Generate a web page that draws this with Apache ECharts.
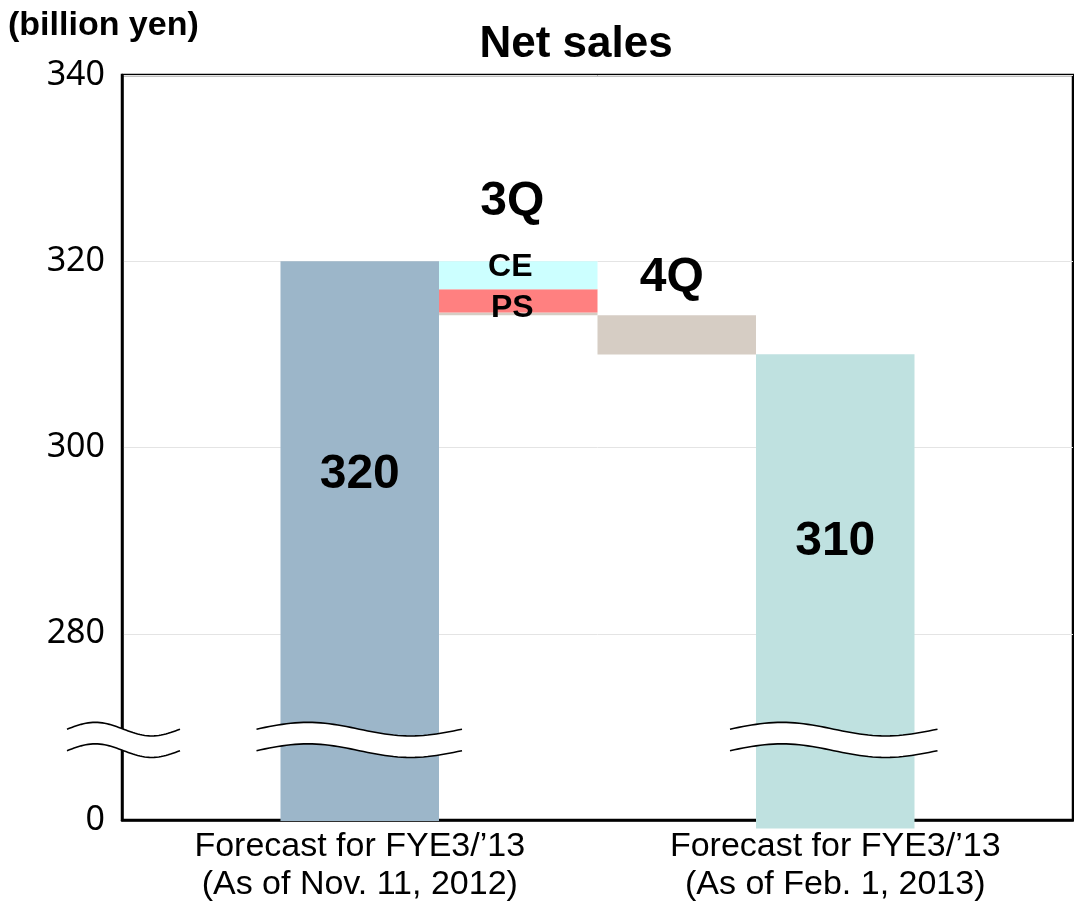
<!DOCTYPE html>
<html>
<head>
<meta charset="utf-8">
<title>Net sales</title>
<script src="https://cdn.jsdelivr.net/npm/echarts@6/dist/echarts.min.js"></script>
<style>
  html, body { margin: 0; padding: 0; background: #fff; }
  #chart { width: 1074px; height: 906px; }
</style>
</head>
<body>
<div id="chart"></div>
<script>
// categories along the x axis (3Q / 4Q are shown above the bars, not on the axis)
var categories = ['', 'Forecast for FYE3/\u201913\n(As of Nov. 11, 2012)', '3Q', '4Q',
  'Forecast for FYE3/\u201913\n(As of Feb. 1, 2013)', ''];
// billion yen
var netSales = [null, 320, null, null, 310, null];
var ceDecrease = [null, null, 3.0, null, null, null];
var psDecrease = [null, null, 2.5, null, null, null];
var otherDecrease = [null, null, 0.3, 4.2, null, null];
// y tick values, the bottom one is drawn as "0" (broken axis)
var yTicks = [260, 280, 300, 320, 340];
var yTickLabels = ['0', '280', '300', '320', '340'];

var axisFloor = yTicks[0];
var font = "'Liberation Sans', Arial, sans-serif";

// waterfall: transparent base + stacked pieces
var base = [], totals = [], tops = [];
var running = 0;
for (var i = 0; i < categories.length; i++) {
  if (netSales[i] != null) {
    // bars start a little under the axis line so they cover it
    var b = axisFloor - (i === 4 ? 0.9 : 0.1);
    base.push(b);
    totals.push({
      value: netSales[i] - b,
      label: { position: ['50%', i === 4 ? '39.5%' : '38.2%'] }
    });
    running = netSales[i];
    tops.push(null);
  } else if (otherDecrease[i] != null) {
    var dec = (ceDecrease[i] || 0) + (psDecrease[i] || 0) + otherDecrease[i];
    tops.push(running);
    running = running - dec;
    base.push(running);
    totals.push(null);
  } else {
    base.push(null);
    totals.push(null);
    tops.push(null);
  }
}

var chart = echarts.init(document.getElementById('chart'));

var option = {
  animation: false,
  title: [
    {
      text: 'Net sales',
      left: 571,
      textAlign: 'center',
      top: 18,
      textStyle: { fontFamily: font, fontSize: 44, fontWeight: 'bold', color: '#000' }
    },
    {
      text: '(billion yen)',
      left: 3,
      top: 4,
      textStyle: { fontFamily: font, fontSize: 34, fontWeight: 'bold', color: '#000' }
    }
  ],
  grid: {
    left: 122,
    right: 1,
    top: 75,
    bottom: 86,
    show: true,
    borderColor: '#000',
    borderWidth: 2.5,
    containLabel: false
  },
  xAxis: {
    type: 'category',
    data: categories,
    axisLine: { lineStyle: { color: '#000', width: 2.5 } },
    axisTick: { show: false },
    axisLabel: {
      interval: 0,
      margin: 8,
      fontFamily: font,
      fontSize: 34,
      lineHeight: 38,
      color: '#000',
      formatter: function (v) {
        return v.indexOf('Forecast') === 0 ? v : '';
      }
    }
  },
  yAxis: {
    type: 'value',
    min: yTicks[0],
    max: yTicks[yTicks.length - 1],
    interval: 20,
    axisLine: { show: true, lineStyle: { color: '#000', width: 2.5 } },
    axisTick: { show: false },
    splitLine: { lineStyle: { color: '#e4e4e4', width: 1 } },
    axisLabel: {
      margin: 17,
      fontFamily: "'Noto Sans', sans-serif",
      fontSize: 34,
      color: '#000',
      formatter: function (v) {
        var k = yTicks.indexOf(v);
        return k >= 0 ? yTickLabels[k] : '';
      }
    }
  },
  series: [
    {
      name: 'base',
      type: 'bar',
      stack: 'w',
      barCategoryGap: '0%',
      itemStyle: { color: 'transparent' },
      silent: true,
      data: base
    },
    {
      name: 'other',
      type: 'bar',
      stack: 'w',
      barCategoryGap: '0%',
      itemStyle: { color: '#d6cdc4' },
      data: otherDecrease
    },
    {
      name: 'PS',
      type: 'bar',
      stack: 'w',
      barCategoryGap: '0%',
      itemStyle: { color: '#ff8080' },
      label: {
        show: true,
        formatter: 'PS',
        position: ['50%', '80%'],
        offset: [-6, 0],
        align: 'center',
        verticalAlign: 'middle',
        fontFamily: font,
        fontSize: 32,
        fontWeight: 'bold',
        color: '#000'
      },
      data: psDecrease
    },
    {
      name: 'CE',
      type: 'bar',
      stack: 'w',
      barCategoryGap: '0%',
      itemStyle: { color: '#ccffff' },
      label: {
        show: true,
        formatter: 'CE',
        position: ['50%', '22%'],
        offset: [-8, 0],
        align: 'center',
        verticalAlign: 'middle',
        fontFamily: font,
        fontSize: 32,
        fontWeight: 'bold',
        color: '#000'
      },
      data: ceDecrease
    },
    {
      name: 'Net sales',
      type: 'bar',
      stack: 'w',
      barCategoryGap: '0%',
      clip: false,
      itemStyle: {
        color: function (p) {
          return p.dataIndex === 1 ? '#9cb6c9' : '#bfe1e0';
        }
      },
      label: {
        show: true,
        formatter: function (p) { return netSales[p.dataIndex]; },
        align: 'center',
        verticalAlign: 'middle',
        fontFamily: font,
        fontSize: 48,
        fontWeight: 'bold',
        color: '#000'
      },
      data: totals
    },
    {
      name: 'quarter',
      type: 'scatter',
      symbolSize: 0,
      silent: true,
      itemStyle: { opacity: 1 },
      label: {
        show: true,
        position: 'top',
        formatter: function (p) { return p.name; },
        fontFamily: font,
        fontSize: 48,
        fontWeight: 'bold',
        color: '#000'
      },
      data: tops.map(function (v, k) {
        if (v == null) return null;
        return {
          value: v,
          label: { distance: k === 2 ? 35 : 13, offset: [k === 2 ? -6 : -5, 0] }
        };
      })
    }
  ]
};

chart.setOption(option);

// axis break marks (wavy white bands)
var breakValue = 268.6;
function band(x0, x1, yc) {
  var up = [], low = [], n = 48, amp = 6.8, half = 10.75;
  for (var k = 0; k <= n; k++) {
    var u = k / n;
    var x = x0 + (x1 - x0) * u;
    var d = -amp * Math.sin(2 * Math.PI * u);
    up.push([x, yc - half + d]);
    low.push([x, yc + half + d]);
  }
  return [
    { type: 'polygon', z: 100, silent: true,
      shape: { points: up.concat(low.slice().reverse()) },
      style: { fill: '#fff', stroke: null } },
    { type: 'polyline', z: 101, silent: true, shape: { points: up },
      style: { stroke: '#000', lineWidth: 1.6, fill: null } },
    { type: 'polyline', z: 101, silent: true, shape: { points: low },
      style: { stroke: '#000', lineWidth: 1.6, fill: null } }
  ];
}
var yc = chart.convertToPixel({ yAxisIndex: 0 }, breakValue);
var c1 = chart.convertToPixel({ xAxisIndex: 0 }, 1);
var c4 = chart.convertToPixel({ xAxisIndex: 0 }, 4);
var slot = chart.convertToPixel({ xAxisIndex: 0 }, 2) - c1;
var axisX = c1 - slot * 1.5;
var marks = []
  .concat(band(axisX - 55, axisX + 58, yc))
  .concat(band(c1 - slot / 2 - 24, c1 + slot / 2 + 23, yc))
  .concat(band(c4 - slot / 2 - 26, c4 + slot / 2 + 23, yc));
chart.setOption({ graphic: marks });

window.onresize = function () { chart.resize(); };
</script>
</body>
</html>
